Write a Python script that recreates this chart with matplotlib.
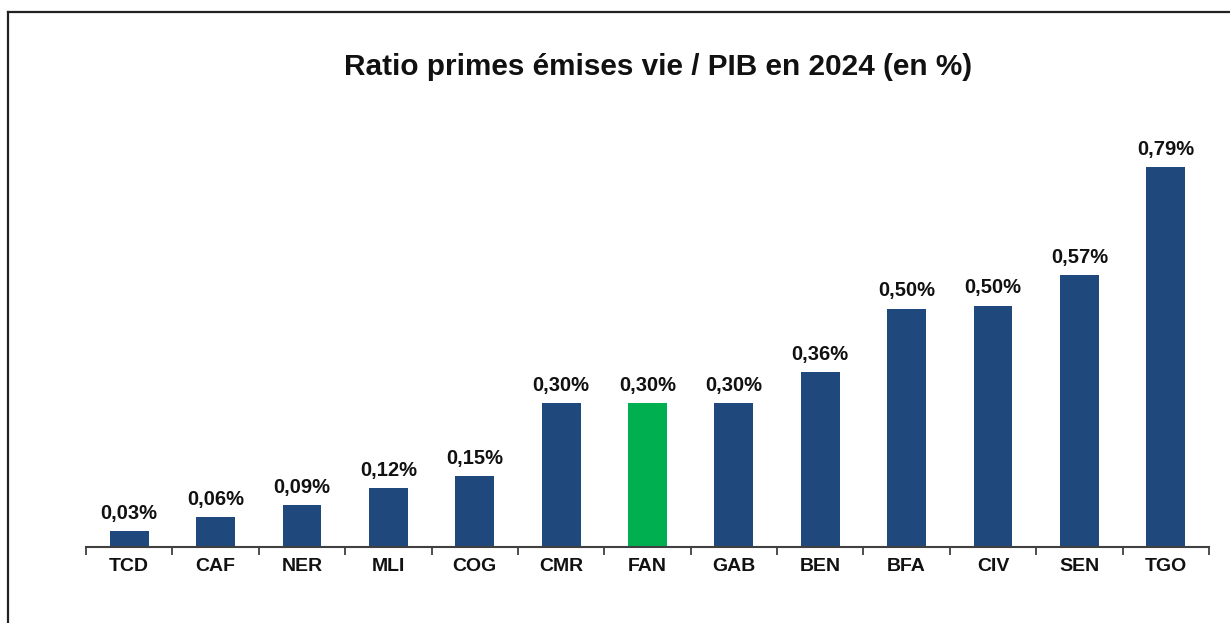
import matplotlib
matplotlib.use("Agg")
import matplotlib.pyplot as plt
from matplotlib.lines import Line2D
import numpy as np

# ============================================================
# DONNÉES
# ============================================================

pays = ["TCD", "CAF", "NER", "MLI", "COG", "CMR", "FAN",
        "GAB", "BEN", "BFA", "CIV", "SEN", "TGO"]
ratio = [0.033, 0.062, 0.087, 0.123, 0.148, 0.300, 0.300,
         0.300, 0.364, 0.496, 0.502, 0.566, 0.791]
surligne = "FAN"

# ============================================================
# STYLE
# ============================================================

plt.rcParams["font.family"] = ["Liberation Sans", "DejaVu Sans"]
COULEUR_BARRE = "#1F497D"
COULEUR_FAN = "#00B050"

fig = plt.figure(figsize=(12.3, 6.23), dpi=100)
ax = fig.add_axes([0.0699, 0.122, 0.913, 0.694])

x = np.arange(len(pays))
couleurs = [COULEUR_FAN if p == surligne else COULEUR_BARRE for p in pays]
barres = ax.bar(x, ratio, width=0.45, color=couleurs, zorder=2)

for b, v in zip(barres, ratio):
    ax.annotate(f"{v:.2f}%".replace(".", ","),
                xy=(b.get_x() + b.get_width() / 2, v),
                xytext=(0, 6), textcoords="offset points",
                ha="center", va="bottom",
                fontsize=14.5, fontweight="bold", color="#111111")

ax.set_xlim(-0.5, len(pays) - 0.5)
ax.set_ylim(0, 0.9)

for s in ["top", "left", "right"]:
    ax.spines[s].set_visible(False)
ax.spines["bottom"].set_color("#404040")
ax.spines["bottom"].set_linewidth(1.5)
ax.set_yticks([])

ax.set_xticks(x)
ax.set_xticklabels(pays, fontsize=14, fontweight="bold", color="#111111")
ax.tick_params(axis="x", which="major", length=0, pad=8)
ax.set_xticks(np.arange(-0.5, len(pays), 1), minor=True)
ax.tick_params(axis="x", which="minor", length=6, width=1.3,
               color="#404040", direction="out")

fig.text(0.535, 0.893, "Ratio primes émises vie / PIB en 2024 (en %)",
         ha="center", va="center", fontsize=21.4, fontweight="bold",
         color="#111111")

# cadre (haut et gauche)
fig.add_artist(Line2D([0.0061, 1.0], [0.9815, 0.9815],
                      transform=fig.transFigure, color="#222222", linewidth=1.6))
fig.add_artist(Line2D([0.0061, 0.0061], [0.0, 0.9815],
                      transform=fig.transFigure, color="#222222", linewidth=1.6))

fig.savefig("out.png", dpi=100)
